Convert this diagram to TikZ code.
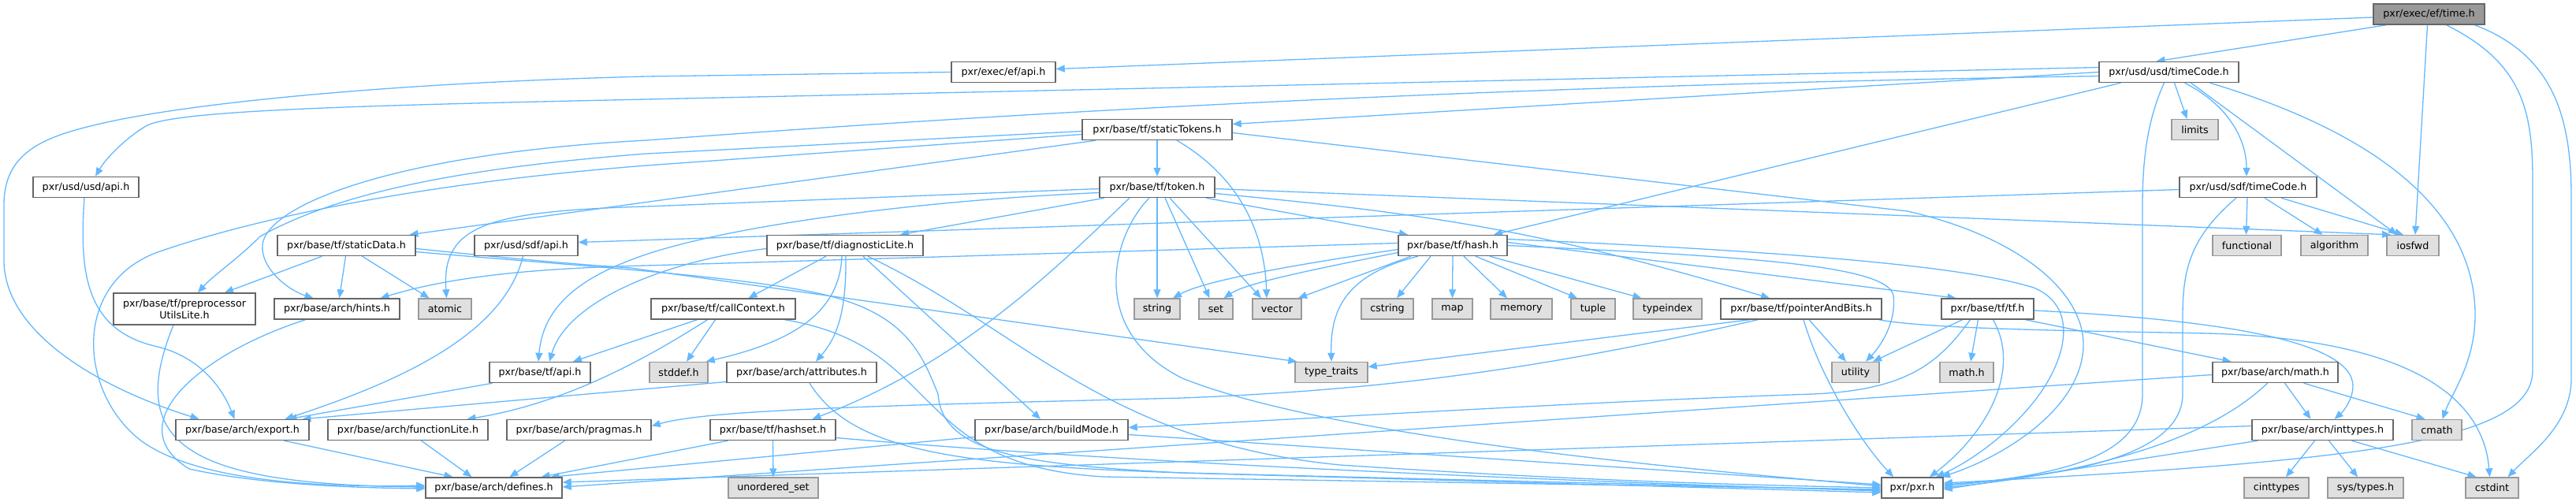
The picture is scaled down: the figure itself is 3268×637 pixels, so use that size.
\documentclass[tikz,border=0pt]{standalone}
\usepackage{fontspec}
\setmainfont{DejaVu Sans}
\usetikzlibrary{arrows.meta}
\definecolor{edgec}{HTML}{63B8FF}
\definecolor{extfill}{HTML}{E0E0E0}
\definecolor{extdraw}{HTML}{999999}
\definecolor{rootfill}{HTML}{999999}
\definecolor{nodedraw}{HTML}{666666}
\pgfdeclarelayer{bg}
\pgfsetlayers{bg,main}
\tikzset{
  nb/.style={draw=nodedraw, line width=1.4pt, fill=white, minimum height=26pt, inner sep=0pt, text=black, font=\fontsize{12.7}{15}\selectfont},
  nx/.style={nb, fill=extfill, draw=extdraw},
  nr/.style={nb, fill=rootfill, draw=nodedraw},
  lnk/.style={draw=edgec, line width=1.3pt, -{Triangle[length=11pt,width=9pt]}},
}
\begin{document}
\begin{tikzpicture}[x=1pt,y=-1pt]
\useasboundingbox (0,0) rectangle (3268,637);
% row 0
\node[nr, minimum width=141pt] (time) at (3081.5,18) {pxr/exec/ef/time.h};
% row 1
\node[nb, minimum width=132pt] (efapi) at (1273,91.5) {pxr/exec/ef/api.h};
\node[nb, minimum width=177pt] (usdtc) at (2751.5,91.5) {pxr/usd/usd/timeCode.h};
% row 2
\node[nb, minimum width=190pt] (sttok) at (1468,164.5) {pxr/base/tf/staticTokens.h};
\node[nx, minimum width=59pt] (limits) at (2784.5,164.5) {limits};
% row 3
\node[nb, minimum width=134pt] (usdapi) at (109,237.5) {pxr/usd/usd/api.h};
\node[nb, minimum width=146pt] (token) at (1468,237.5) {pxr/base/tf/token.h};
\node[nb, minimum width=174pt] (sdftc) at (2852,237.5) {pxr/usd/sdf/timeCode.h};
% row 4
\node[nb, minimum width=175pt] (stdata) at (439.5,311.5) {pxr/base/tf/staticData.h};
\node[nb, minimum width=131pt] (sdfapi) at (667.5,311.5) {pxr/usd/sdf/api.h};
\node[nb, minimum width=198pt] (diag) at (1072,311.5) {pxr/base/tf/diagnosticLite.h};
\node[nb, minimum width=138pt] (hash) at (1843,311.5) {pxr/base/tf/hash.h};
\node[nx, minimum width=87pt] (functional) at (2850.5,311.5) {functional};
\node[nx, minimum width=85pt] (algorithm) at (2961.5,311.5) {algorithm};
\node[nx, minimum width=66pt] (iosfwd) at (3061,311.5) {iosfwd};
% row 5
\node[nb, minimum width=180pt, minimum height=40pt, align=center] (preproc) at (234,392) {pxr/base/tf/preprocessor\\UtilsLite.h};
\node[nb, minimum width=159pt] (hints) at (427.5,392) {pxr/base/arch/hints.h};
\node[nx, minimum width=67pt] (atomic) at (564.5,392) {atomic};
\node[nb, minimum width=183pt] (callctx) at (917.5,392) {pxr/base/tf/callContext.h};
\node[nx, minimum width=58pt] (string) at (1468,392) {string};
\node[nx, minimum width=43pt] (set) at (1542.5,392) {set};
\node[nx, minimum width=62pt] (vector) at (1620,392) {vector};
\node[nx, minimum width=66pt] (cstring) at (1760,392) {cstring};
\node[nx, minimum width=51pt] (map) at (1842.5,392) {map};
\node[nx, minimum width=78pt] (memory) at (1930,392) {memory};
\node[nx, minimum width=56pt] (tuple) at (2021,392) {tuple};
\node[nx, minimum width=87pt] (typeindex) at (2115.5,392) {typeindex};
\node[nb, minimum width=204pt] (ptrbits) at (2285,392) {pxr/base/tf/pointerAndBits.h};
\node[nb, minimum width=117pt] (tf) at (2521.5,392) {pxr/base/tf/tf.h};
% row 6
\node[nb, minimum width=128pt] (tfapi) at (685,472.5) {pxr/base/tf/api.h};
\node[nx, minimum width=74pt] (stddef) at (861,472.5) {stddef.h};
\node[nb, minimum width=190pt] (attrib) at (1017,472.5) {pxr/base/arch/attributes.h};
\node[nx, minimum width=92pt] (typetraits) at (1689,472.5) {type\_traits};
\node[nx, minimum width=60pt] (utility) at (2354,472.5) {utility};
\node[nx, minimum width=68pt] (mathh) at (2495,472.5) {math.h};
\node[nb, minimum width=159pt] (archmath) at (2886.5,472.5) {pxr/base/arch/math.h};
% row 7
\node[nb, minimum width=169pt] (export) at (307.5,545.5) {pxr/base/arch/export.h};
\node[nb, minimum width=203pt] (funclite) at (517.5,545.5) {pxr/base/arch/functionLite.h};
\node[nb, minimum width=183pt] (pragmas) at (734.5,545.5) {pxr/base/arch/pragmas.h};
\node[nb, minimum width=159pt] (hashset) at (980.5,545.5) {pxr/base/tf/hashset.h};
\node[nb, minimum width=194pt] (buildmode) at (1334,545.5) {pxr/base/arch/buildMode.h};
\node[nb, minimum width=179pt] (inttypes) at (2946.5,545.5) {pxr/base/arch/inttypes.h};
\node[nx, minimum width=63pt] (cmath) at (3091.5,545.5) {cmath};
% row 8
\node[nb, minimum width=173pt] (defines) at (626.5,619) {pxr/base/arch/defines.h};
\node[nx, minimum width=114pt] (uset) at (981,619) {unordered\_set};
\node[nb, minimum width=78pt] (pxr) at (2426,619) {pxr/pxr.h};
\node[nx, minimum width=82pt] (cinttypes) at (2888,619) {cinttypes};
\node[nx, minimum width=96pt] (systypes) at (3001,619) {sys/types.h};
\node[nx, minimum width=67pt] (cstdint) at (3161.5,619) {cstdint};

\begin{pgfonlayer}{bg}
% time.h
\draw[lnk] ([yshift=-4pt]time.west) -- ([yshift=4pt]efapi.east);
\draw[lnk] ([xshift=-54pt]time.south) -- ([xshift=-16pt]usdtc.north);
\draw[lnk] ([xshift=-2pt]time.south) -- ([xshift=3pt]iosfwd.north);
\draw[lnk] ([xshift=22pt]time.south) .. controls (3200,80) and (3213,140) .. (3213,230) -- (3213,470) .. controls (3213,560) and (3000,585) .. ([yshift=6pt]pxr.east);
\draw[lnk] ([xshift=58pt]time.south) .. controls (3240,70) and (3262,150) .. (3262,250) -- (3262,480) .. controls (3262,540) and (3210,575) .. ([xshift=20pt]cstdint.north);
% ef/api.h
\draw[lnk] (efapi.west) -- (820,97) .. controls (500,105) and (250,130) .. (136,155) .. controls (60,172) and (5,190) .. (5,260) -- (5,330) .. controls (5,420) and (120,490) .. ([xshift=-55pt]export.north);
% usd/timeCode.h
\draw[lnk] ([yshift=6pt]usdtc.west) -- (820,126) .. controls (450,134) and (220,140) .. (185,160) .. controls (160,175) and (135,200) .. ([xshift=12pt]usdapi.north);
\draw[lnk] ([yshift=-5pt]usdtc.west) .. controls (1800,110) and (1200,150) .. (820,178) .. controls (500,195) and (340,260) .. (333,310) .. controls (330,340) and (365,368) .. ([xshift=-30pt]hints.north);
\draw[lnk] ([xshift=-61pt]usdtc.south) -- ([xshift=52pt]hash.north);
\draw[lnk] (usdtc.west) -- ([yshift=7pt]sttok.east);
\draw[lnk] ([xshift=-6pt]usdtc.south) .. controls (2725,150) and (2718,200) .. (2718,260) -- (2718,500) .. controls (2718,585) and (2600,603) .. ([yshift=2pt]pxr.east);
\draw[lnk] ([xshift=7pt]usdtc.south) -- ([xshift=-10pt]limits.north);
\draw[lnk] ([xshift=20pt]usdtc.south) .. controls (2830,135) and (2850,180) .. ([xshift=-2pt]sdftc.north);
\draw[lnk] ([xshift=28pt]usdtc.south) -- ([xshift=-20pt]iosfwd.north);
\draw[lnk] ([xshift=52pt]usdtc.south) .. controls (3020,170) and (3140,270) .. (3140,400) .. controls (3140,460) and (3110,500) .. ([xshift=7pt]cmath.north);
% staticTokens.h
\draw[lnk] (sttok.south) -- (token.north);
\draw[lnk] ([xshift=25pt]sttok.south) .. controls (1590,235) and (1605,320) .. ([xshift=-13pt]vector.north);
\draw[lnk] ([yshift=-4pt]sttok.east) -- (2420,268) .. controls (2560,300) and (2645,370) .. (2643,440) .. controls (2640,520) and (2540,580) .. ([xshift=37pt]pxr.north);
\draw[lnk] ([yshift=-2pt]sttok.west) -- (820,195) .. controls (560,215) and (420,250) .. (330,300) .. controls (300,330) and (270,350) .. ([xshift=17pt]preproc.north);
\draw[lnk] ([yshift=-6pt]sttok.west) -- (820,210) .. controls (500,235) and (300,285) .. (200,320) .. controls (90,360) and (100,500) .. (180,560) .. controls (250,610) and (400,619) .. ([yshift=3pt]defines.west);
\draw[lnk] ([xshift=-78pt]sttok.south) -- ([xshift=80pt]stdata.north);
% token.h
\draw[lnk] ([yshift=-2pt]token.west) -- (820,262) .. controls (620,268) and (560,285) .. ([xshift=2pt]atomic.north);
\draw[lnk] ([yshift=-7pt]token.west) .. controls (1150,255) and (900,290) .. (800,330) .. controls (720,360) and (688,400) .. ([xshift=-2pt]tfapi.north);
\draw[lnk] ([xshift=-67pt]token.south) -- ([xshift=70pt]diag.north);
\draw[lnk] ([xshift=-35pt]token.south) .. controls (1340,340) and (1220,460) .. ([xshift=50pt]hashset.north);
\draw[lnk] ([xshift=-10pt]token.south) .. controls (1410,300) and (1380,420) .. (1500,480) .. controls (1700,560) and (2200,600) .. ([yshift=2pt]pxr.west);
\draw[lnk] (token.south) -- (string.north);
\draw[lnk] ([xshift=10pt]token.south) -- ([xshift=-8pt]set.north);
\draw[lnk] ([xshift=16pt]token.south) -- ([xshift=-20pt]vector.north);
\draw[lnk] ([yshift=-2pt]token.east) -- ([xshift=-28pt]iosfwd.north);
\draw[lnk] ([yshift=-8pt]token.east) .. controls (1800,270) and (1950,290) .. ([xshift=-40pt]ptrbits.north);
\draw[lnk] ([xshift=62pt]token.south) -- ([xshift=-57pt]hash.north);
% diagnosticLite.h
\draw[lnk] ([xshift=-24pt]diag.south) -- ([xshift=32pt]callctx.north);
\draw[lnk] ([xshift=-4pt]diag.south) .. controls (1065,400) and (1000,435) .. ([xshift=-3pt]stddef.north east);
\draw[lnk] ([xshift=1pt]diag.south) .. controls (1074,400) and (1060,430) .. ([xshift=18pt]attrib.north);
\draw[lnk] ([xshift=23pt]diag.south) -- ([xshift=-14pt]buildmode.north);
\draw[lnk] ([xshift=29pt]diag.south) .. controls (1300,420) and (1400,560) .. (1700,590) .. controls (2000,610) and (2200,615) .. (pxr.west);
\draw[lnk] ([yshift=-4pt]diag.west) .. controls (850,330) and (720,380) .. ([xshift=12pt]tfapi.north);
% callContext.h
\draw[lnk] ([xshift=-33pt]callctx.south) -- ([xshift=42pt]tfapi.north);
\draw[lnk] ([xshift=-20pt]callctx.south) .. controls (840,442) and (730,510) .. ([xshift=75pt]funclite.north);
\draw[lnk] ([xshift=-10pt]callctx.south) -- ([xshift=10pt]stddef.north);
\draw[lnk] ([xshift=78pt]callctx.south) .. controls (1200,440) and (1150,590) .. (1400,605) -- ([yshift=-2pt]pxr.west);
% staticData.h
\draw[lnk] ([xshift=-31pt]stdata.south) -- ([xshift=51pt]preproc.north);
\draw[lnk] ([xshift=-1pt]stdata.south) -- ([xshift=3pt]hints.north);
\draw[lnk] ([xshift=20pt]stdata.south) -- ([xshift=-20pt]atomic.north);
\draw[lnk] ([yshift=-4pt]stdata.east) .. controls (650,328) and (700,333) .. (800,340) -- ([xshift=3pt]typetraits.north west);
\draw[lnk] ([yshift=-8pt]stdata.east) .. controls (700,335) and (950,350) .. (1050,375) .. controls (1150,400) and (1170,450) .. (1190,500) .. controls (1195,575) and (1300,590) .. (1500,600) -- ([yshift=-6pt]pxr.west);
% into defines.h
\draw[lnk] ([xshift=-14pt]preproc.south) .. controls (160,560) and (230,615) .. ([yshift=1pt]defines.west);
\draw[lnk] ([xshift=-40pt]hints.south) .. controls (250,450) and (150,540) .. (240,595) .. controls (330,615) and (450,619) .. ([yshift=-1pt]defines.west);
\draw[lnk] ([xshift=53pt]export.south) -- ([xshift=-52pt]defines.north);
\draw[lnk] ([xshift=17pt]funclite.south) -- ([xshift=-28pt]defines.north);
\draw[lnk] ([xshift=-18pt]pragmas.south) -- ([xshift=20pt]defines.north);
\draw[lnk] ([xshift=-57pt]hashset.south) -- ([xshift=60pt]defines.north);
\draw[lnk] (hashset.south) -- (uset.north);
\draw[lnk] ([yshift=-10pt]hashset.east) .. controls (1400,585) and (1900,608) .. ([yshift=-4pt]pxr.west);
\draw[lnk] ([yshift=-9pt]buildmode.west) -- ([xshift=72pt]defines.north);
\draw[lnk] ([yshift=-6pt]buildmode.east) -- ([yshift=4pt]pxr.west);
% attributes.h
\draw[lnk] ([yshift=-12pt]attrib.west) -- ([xshift=76pt]export.north);
\draw[lnk] ([xshift=10pt]attrib.south) .. controls (1080,570) and (1200,590) .. (1500,600) -- ([yshift=-3pt]pxr.west);
% api headers
\draw[lnk] ([xshift=-60pt]tfapi.south) -- ([xshift=58pt]export.north);
\draw[lnk] ([xshift=-4pt]sdfapi.south) .. controls (640,420) and (520,480) .. ([xshift=54pt]export.north);
\draw[lnk] ([xshift=-2pt]usdapi.south) .. controls (100,350) and (110,420) .. (200,440) .. controls (260,455) and (285,500) .. ([xshift=-10pt]export.north);
% pointerAndBits.h
\draw[lnk] ([xshift=-65pt]ptrbits.south) -- ([yshift=7pt]typetraits.east);
\draw[lnk] ([xshift=-55pt]ptrbits.south) .. controls (1950,470) and (1750,495) .. (1500,505) .. controls (1100,515) and (900,520) .. ([yshift=5pt]pragmas.east);
\draw[lnk] ([xshift=3pt]ptrbits.south) .. controls (2310,480) and (2360,560) .. ([xshift=-24pt]pxr.north);
\draw[lnk] ([xshift=10pt]ptrbits.south) -- ([xshift=-12pt]utility.north);
\draw[lnk] ([xshift=-4pt]ptrbits.south east) .. controls (2450,418) and (2650,420) .. (2800,423) .. controls (3050,430) and (3150,500) .. ([xshift=-3pt]cstdint.north);
% hash.h
\draw[lnk] ([xshift=-28pt]hash.south) -- ([xshift=12pt]cstring.north);
\draw[lnk] (hash.south) -- (map.north);
\draw[lnk] ([xshift=14pt]hash.south) -- ([xshift=-18pt]memory.north);
\draw[lnk] ([xshift=29pt]hash.south) -- ([xshift=-20pt]tuple.north);
\draw[lnk] ([xshift=47pt]hash.south) -- ([xshift=-33pt]typeindex.north);
\draw[lnk] ([xshift=-44pt]hash.south) .. controls (1700,350) and (1688,400) .. (typetraits.north);
\draw[lnk] ([xshift=-53pt]hash.south) -- ([xshift=27pt]vector.north);
\draw[lnk] ([yshift=-5pt]hash.west) .. controls (1650,335) and (1530,355) .. ([xshift=20pt]string.north);
\draw[lnk] ([yshift=-9pt]hash.west) .. controls (1650,345) and (1580,360) .. ([xshift=10pt]set.north);
\draw[lnk] ([yshift=3pt]hash.west) -- (820,337) .. controls (650,341) and (560,355) .. ([xshift=55pt]hints.north);
\draw[lnk] ([yshift=4pt]hash.east) -- ([xshift=-40pt]tf.north);
\draw[lnk] ([yshift=8pt]hash.east) .. controls (2300,320) and (2500,340) .. (2580,365) .. controls (2640,390) and (2620,460) .. (2580,510) .. controls (2540,560) and (2490,590) .. ([xshift=30pt]pxr.north);
\draw[lnk] (hash.east) .. controls (2200,325) and (2395,335) .. (2402,375) .. controls (2406,410) and (2385,440) .. ([xshift=13pt]utility.north);
% tf.h
\draw[lnk] ([xshift=-32pt]tf.south) -- ([xshift=22pt]utility.north);
\draw[lnk] ([xshift=-22pt]tf.south) .. controls (2460,460) and (2420,495) .. (2300,500) .. controls (2000,510) and (1600,535) .. ([yshift=3pt]buildmode.east);
\draw[lnk] ([xshift=-12pt]tf.south) -- ([xshift=5pt]mathh.north);
\draw[lnk] ([xshift=7pt]tf.south) .. controls (2565,470) and (2520,550) .. ([xshift=22pt]pxr.north);
\draw[lnk] ([xshift=48pt]tf.south) -- ([xshift=-56pt]archmath.north);
\draw[lnk] ([yshift=-2pt]tf.east) .. controls (2800,405) and (2985,430) .. (2985,490) .. controls (2985,505) and (2975,520) .. ([xshift=15pt]inttypes.north);
% arch/math.h
\draw[lnk] ([yshift=-3pt]archmath.west) -- ([yshift=1pt]defines.east);
\draw[lnk] ([xshift=-10pt]archmath.south) .. controls (2800,560) and (2650,600) .. (pxr.east);
\draw[lnk] ([xshift=12pt]archmath.south) -- ([xshift=-15pt]inttypes.north);
\draw[lnk] ([xshift=36pt]archmath.south) -- ([xshift=-15pt]cmath.north);
% inttypes.h
\draw[lnk] ([yshift=5pt]inttypes.west) -- ([yshift=7pt]defines.east);
\draw[lnk] ([xshift=-82pt]inttypes.south) -- ([yshift=-2pt]pxr.east);
\draw[lnk] ([xshift=-10pt]inttypes.south) -- ([xshift=12pt]cinttypes.north);
\draw[lnk] ([xshift=8pt]inttypes.south) -- ([xshift=-10pt]systypes.north);
\draw[lnk] ([xshift=37pt]inttypes.south) -- ([xshift=-20pt]cstdint.north);
% sdf/timeCode.h
\draw[lnk] ([yshift=-3pt]sdftc.west) -- ([yshift=4pt]sdfapi.east);
\draw[lnk] ([xshift=-1pt]sdftc.south) -- ([xshift=-1pt]functional.north);
\draw[lnk] ([xshift=21pt]sdftc.south) -- ([xshift=-15pt]algorithm.north);
\draw[lnk] ([xshift=42pt]sdftc.south) -- ([xshift=-12pt]iosfwd.north);
\draw[lnk] ([xshift=-15pt]sdftc.south) .. controls (2780,300) and (2769,340) .. (2769,400) -- (2769,500) .. controls (2769,585) and (2600,605) .. ([yshift=4pt]pxr.east);
\end{pgfonlayer}
\end{tikzpicture}
\end{document}
